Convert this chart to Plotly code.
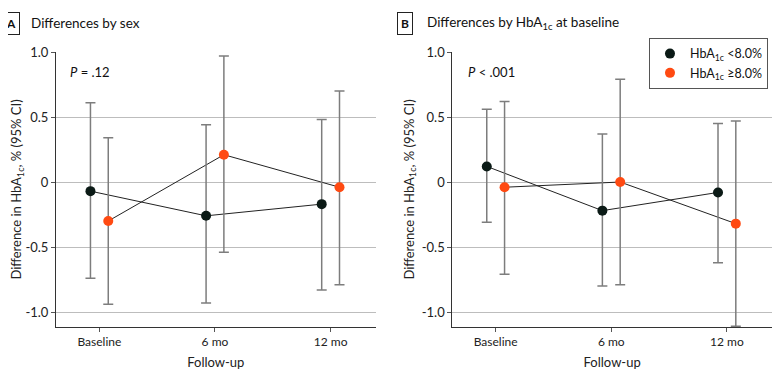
import plotly.graph_objects as go
from plotly.subplots import make_subplots

categories = ["Baseline", "6 mo", "12 mo"]

# Panel A: differences by sex
a_dark = [-0.07, -0.26, -0.17]
a_dark_hi = [0.61, 0.44, 0.48]
a_dark_lo = [-0.74, -0.93, -0.83]
a_orange = [-0.30, 0.21, -0.04]
a_orange_hi = [0.34, 0.97, 0.70]
a_orange_lo = [-0.94, -0.54, -0.79]

# Panel B: differences by HbA1c at baseline
b_dark = [0.12, -0.22, -0.08]
b_dark_hi = [0.56, 0.37, 0.45]
b_dark_lo = [-0.31, -0.80, -0.62]
b_orange = [-0.04, 0.00, -0.32]
b_orange_hi = [0.62, 0.79, 0.47]
b_orange_lo = [-0.71, -0.79, -1.11]

y_ticks = [1.0, 0.5, 0, -0.5, -1.0]
y_ticktext = ["1.0", "0.5", "0", "-0.5", "-1.0"]

legend_names = ["HbA<sub>1c</sub> <8.0%", "HbA<sub>1c</sub> ≥8.0%"]

DARK = "#0b1a16"
ORANGE = "#ff4a12"
ERR = "#7d7d7d"
FONT = "Lato, Open Sans, sans-serif"
DODGE = 0.077

fig = make_subplots(rows=1, cols=2, horizontal_spacing=0.107)

def add_panel(col, dark, dhi, dlo, orange, ohi, olo, showlegend):
    xi = list(range(len(categories)))
    xd = [v - DODGE for v in xi]
    xo = [v + DODGE for v in xi]
    for xs, ys in ((xd, dark), (xo, orange)):
        fig.add_trace(go.Scatter(x=xs, y=ys, mode="lines",
                                 line=dict(color="#222222", width=1),
                                 showlegend=False, hoverinfo="skip"), row=1, col=col)
    for xs, ys, hi, lo, color, name in ((xd, dark, dhi, dlo, DARK, legend_names[0]),
                                        (xo, orange, ohi, olo, ORANGE, legend_names[1])):
        fig.add_trace(go.Scatter(
            x=xs, y=ys, mode="markers", name=name, showlegend=showlegend,
            marker=dict(color=color, size=10),
            error_y=dict(type="data", symmetric=False,
                         array=[h - y for h, y in zip(hi, ys)],
                         arrayminus=[y - l for l, y in zip(lo, ys)],
                         color=ERR, thickness=1.5, width=5),
        ), row=1, col=col)

add_panel(1, a_dark, a_dark_hi, a_dark_lo, a_orange, a_orange_hi, a_orange_lo, False)
add_panel(2, b_dark, b_dark_hi, b_dark_lo, b_orange, b_orange_hi, b_orange_lo, True)

ytitle = "Difference in HbA<sub>1c</sub>, % (95% CI)"
for col in (1, 2):
    fig.update_xaxes(range=[-0.375, 2.39], tickvals=[0, 1, 2], ticktext=categories,
                     showline=True, linecolor="#333333", linewidth=1,
                     ticks="outside", ticklen=4, tickcolor="#555555",
                     showgrid=False, zeroline=False, automargin=False,
                     title=dict(text="Follow-up", font=dict(size=13, color="#222222"), standoff=9),
                     tickfont=dict(size=12, color="#222222"), row=1, col=col)
    fig.update_yaxes(range=[-1.115, 1.0], tickvals=y_ticks, ticktext=y_ticktext,
                     showline=True, linecolor="#333333", linewidth=1,
                     ticks="outside", ticklen=4, tickcolor="#555555",
                     showgrid=True, gridcolor="#bdbdbd", gridwidth=1, zeroline=False,
                     automargin=False,
                     title=dict(text=ytitle, font=dict(size=13, color="#222222"), standoff=4),
                     tickfont=dict(size=13, color="#222222"), row=1, col=col)

annotations = [
    dict(text="<b>A</b>", x=-0.0635, y=1.105, xref="paper", yref="paper",
         showarrow=False, font=dict(size=12, color="#111111"),
         bordercolor="#222222", borderwidth=1, borderpad=3, xanchor="center", yanchor="middle"),
    dict(text="Differences by sex", x=-0.0377, y=1.105, xref="paper", yref="paper",
         showarrow=False, font=dict(size=13.5, color="#111111"), xanchor="left", yanchor="middle"),
    dict(text="<b>B</b>", x=0.4875, y=1.105, xref="paper", yref="paper",
         showarrow=False, font=dict(size=12, color="#111111"),
         bordercolor="#222222", borderwidth=1, borderpad=3, xanchor="center", yanchor="middle"),
    dict(text="Differences by HbA<sub>1c</sub> at baseline", x=0.5154, y=1.105, xref="paper", yref="paper",
         showarrow=False, font=dict(size=13.5, color="#111111"), xanchor="left", yanchor="middle"),
    dict(text="<i>P</i> = .12", x=0.0168, y=0.927, xref="paper", yref="paper",
         showarrow=False, font=dict(size=13, color="#111111"), xanchor="left", yanchor="middle"),
    dict(text="<i>P</i> < .001", x=0.5726, y=0.927, xref="paper", yref="paper",
         showarrow=False, font=dict(size=13, color="#111111"), xanchor="left", yanchor="middle"),
]

# The page's body has an 8px default margin, so the figure is sized 8px smaller.
fig.update_layout(
    width=772, height=374,
    margin=dict(l=48, r=8, t=44, b=55, autoexpand=False),
    paper_bgcolor="white", plot_bgcolor="white",
    font=dict(family=FONT, color="#222222"),
    annotations=annotations,
    legend=dict(x=0.9944, y=1.051, xanchor="right", yanchor="top",
                bordercolor="#555555", borderwidth=1, bgcolor="white",
                font=dict(size=12.5, color="#111111"), itemwidth=30,
                tracegroupgap=0),
)

fig.write_html("out.html")
